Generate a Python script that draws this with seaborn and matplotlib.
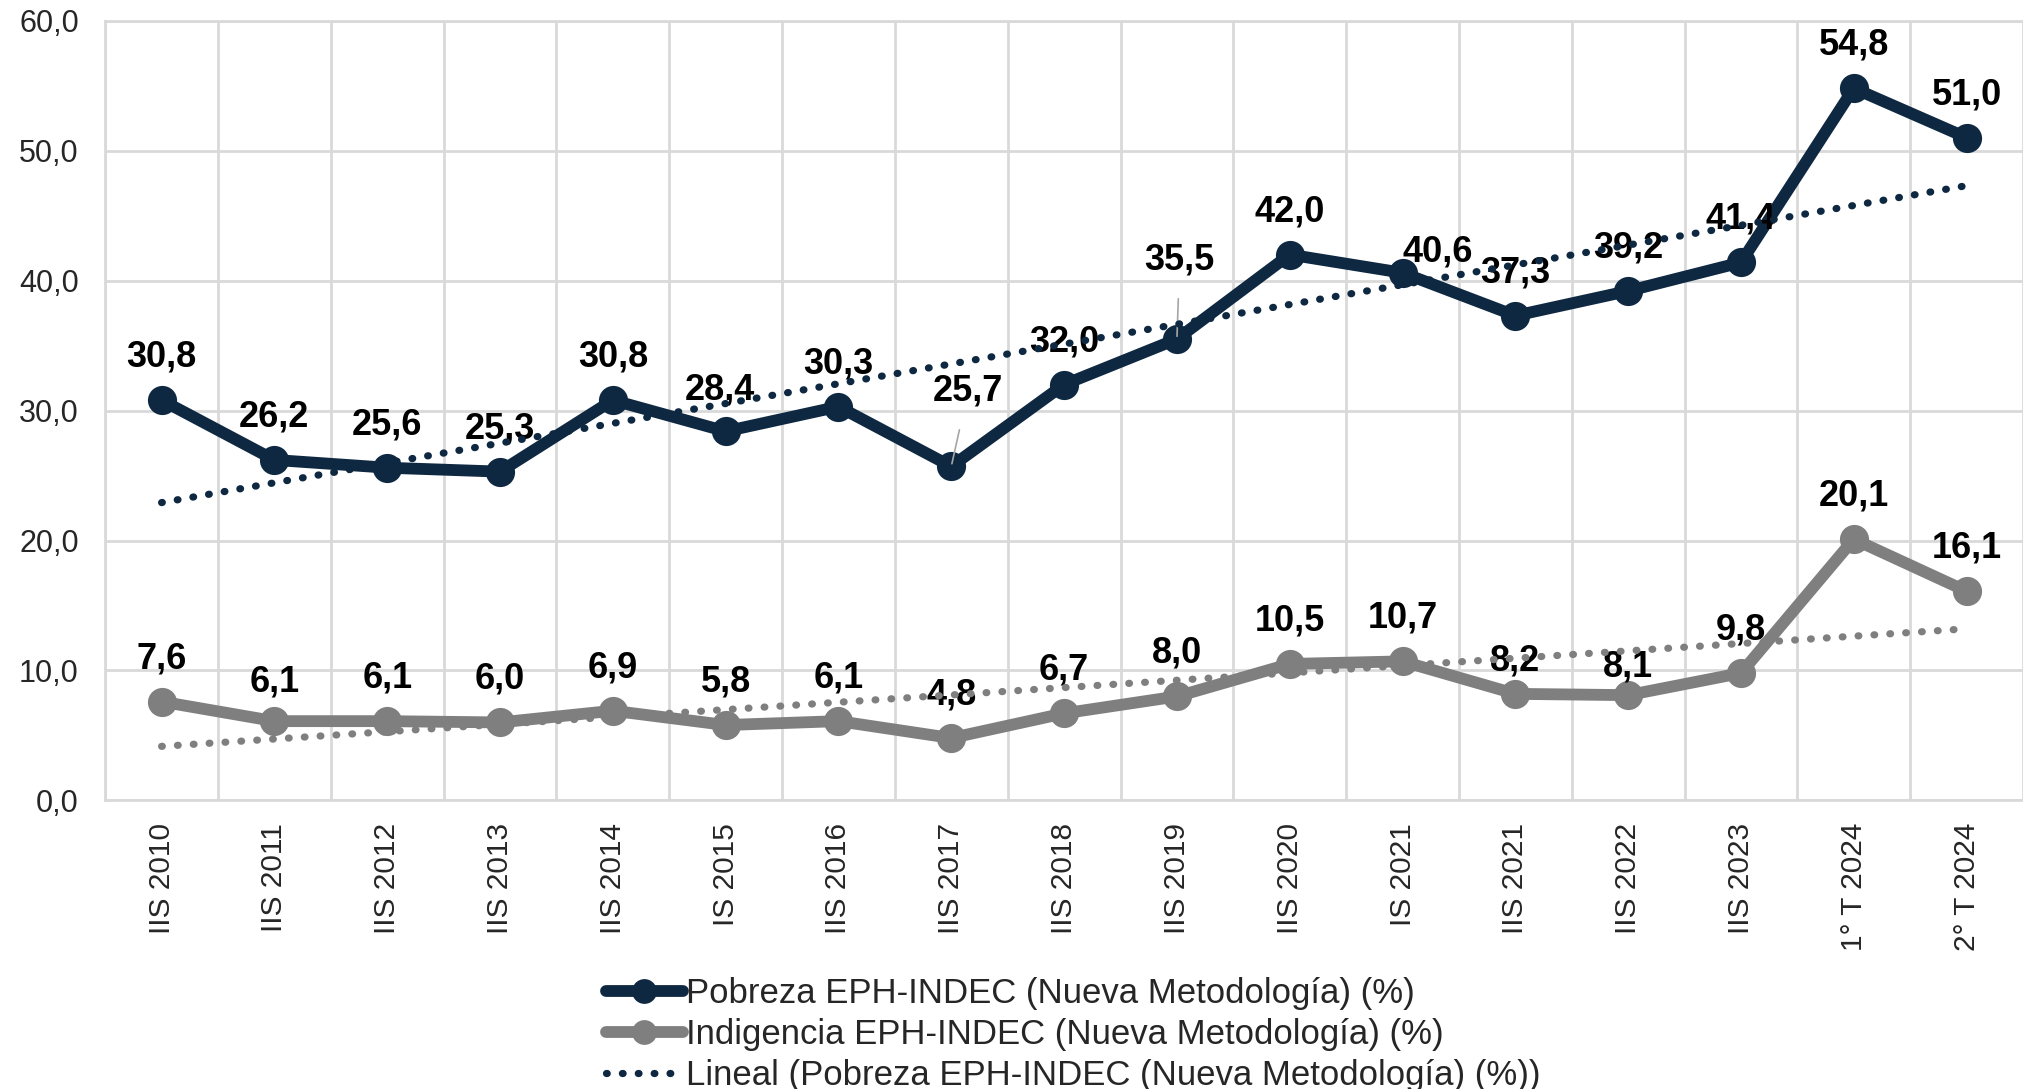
import numpy as np
import matplotlib
matplotlib.use("Agg")
import matplotlib.pyplot as plt
import seaborn as sns

# Datos (EPH-INDEC, nueva metodología)
periodos = ["IIS 2010", "IIS 2011", "IIS 2012", "IIS 2013", "IIS 2014", "IS 2015",
            "IIS 2016", "IIS 2017", "IIS 2018", "IIS 2019", "IIS 2020", "IS 2021",
            "IIS 2021", "IIS 2022", "IIS 2023", "1° T 2024", "2° T 2024"]
pobreza = [30.8, 26.2, 25.6, 25.3, 30.8, 28.4, 30.3, 25.7, 32.0, 35.5,
           42.0, 40.6, 37.3, 39.2, 41.4, 54.8, 51.0]
indigencia = [7.6, 6.1, 6.1, 6.0, 6.9, 5.8, 6.1, 4.8, 6.7, 8.0,
              10.5, 10.7, 8.2, 8.1, 9.8, 20.1, 16.1]

lbl_pob = "Pobreza EPH-INDEC (Nueva Metodología) (%)"
lbl_ind = "Indigencia EPH-INDEC (Nueva Metodología) (%)"
lbl_lin = "Lineal (Pobreza EPH-INDEC (Nueva Metodología) (%))"

c_pob = "#0E2841"
c_ind = "#7F7F7F"
c_grid = "#D9D9D9"

sns.set_style("white")
plt.rcParams["font.family"] = ["Liberation Sans", "DejaVu Sans"]
narrow = ["Liberation Sans Narrow", "Liberation Sans", "DejaVu Sans"]

fig = plt.figure(figsize=(20.23, 10.89), dpi=100)
ax = fig.add_axes([0.052, 0.265, 0.948, 0.716])

x = np.arange(len(periodos))

# tendencias lineales
n0 = len(ax.lines)
sns.regplot(x=x, y=pobreza, scatter=False, ci=None, ax=ax,
            line_kws=dict(color=c_pob, lw=5.2, linestyle=(0, (0.1, 2.1)),
                          dash_capstyle="round", zorder=5))
h_lin = ax.lines[n0]
sns.regplot(x=x, y=indigencia, scatter=False, ci=None, ax=ax,
            line_kws=dict(color=c_ind, lw=5.2, linestyle=(0, (0.1, 2.1)),
                          dash_capstyle="round", zorder=5))

# series
n0 = len(ax.lines)
sns.lineplot(x=x, y=pobreza, ax=ax, color=c_pob, lw=8.5, marker="o",
             markersize=21, markeredgewidth=0, zorder=3)
h_pob = ax.lines[n0]
n0 = len(ax.lines)
sns.lineplot(x=x, y=indigencia, ax=ax, color=c_ind, lw=8.5, marker="o",
             markersize=21, markeredgewidth=0, zorder=3)
h_ind = ax.lines[n0]

# etiquetas de datos
ajuste_pob = {5: (-4, 30), 7: (12, 54), 9: (2, 57), 11: (25, 15)}
ajuste_ind = {1: (0, 28), 12: (0, 24), 13: (0, 20)}
lider = [7, 9]


def fmt(v):
    return f"{v:.1f}".replace(".", ",")


for i, v in enumerate(pobreza):
    dx, dy = ajuste_pob.get(i, (0, 31))
    arrow = dict(arrowstyle="-", color="#A6A6A6", lw=1.2, shrinkA=13, shrinkB=2) if i in lider else None
    ax.annotate(fmt(v), (i, v), xytext=(dx, dy), textcoords="offset points",
                ha="center", va="center", fontsize=26, fontweight="bold",
                family=narrow, color="black", arrowprops=arrow, zorder=4)
for i, v in enumerate(indigencia):
    dx, dy = ajuste_ind.get(i, (0, 31))
    ax.annotate(fmt(v), (i, v), xytext=(dx, dy), textcoords="offset points",
                ha="center", va="center", fontsize=26, fontweight="bold",
                family=narrow, color="black", zorder=4)

# ejes
ax.set_xlim(-0.5, len(periodos) - 0.5)
ax.set_ylim(0, 60)
ax.set_yticks(np.arange(0, 61, 10))
ax.set_yticklabels([fmt(t) for t in np.arange(0, 61, 10)], fontsize=22)
ax.set_xticks(x)
ax.set_xticklabels(periodos, rotation=90, fontsize=21.5)
ax.set_xticks(np.arange(-0.5, len(periodos), 1), minor=True)
ax.tick_params(axis="both", which="both", length=0)
ax.tick_params(axis="y", pad=19)
ax.tick_params(axis="x", pad=16)
ax.grid(True, axis="y", which="major", color=c_grid, lw=2)
ax.grid(True, axis="x", which="minor", color=c_grid, lw=2)
ax.grid(False, axis="x", which="major")
ax.set_axisbelow(True)
for s in ["left", "bottom", "top"]:
    ax.spines[s].set_color(c_grid)
    ax.spines[s].set_linewidth(2)
ax.spines["right"].set_visible(False)
ax.set_xlabel("")
ax.set_ylabel("")

# leyenda
fig.legend([h_pob, h_ind, h_lin], [lbl_pob, lbl_ind, lbl_lin],
           loc="upper left", bbox_to_anchor=(0.2997, 0.1025), frameon=False,
           prop=dict(family=narrow, size=25), handlelength=2.2,
           handletextpad=0.1, labelspacing=0.22, borderaxespad=0, borderpad=0,
           markerscale=0.85)

fig.savefig("out.png", dpi=100)
